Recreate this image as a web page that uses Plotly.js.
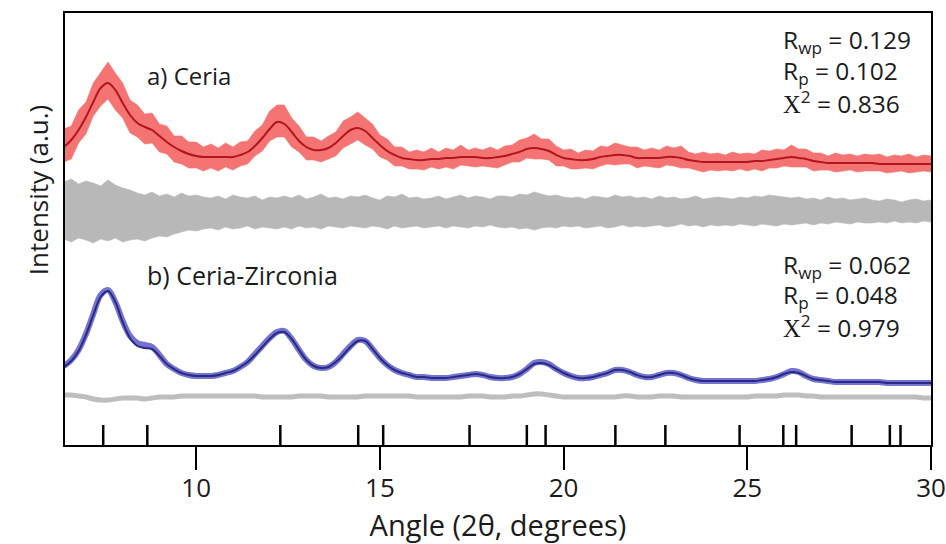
<!DOCTYPE html>
<html>
<head>
<meta charset="utf-8">
<script src="https://cdn.plot.ly/plotly-3.0.1.min.js"></script>
<style>
  html, body { margin: 0; padding: 0; background: #ffffff; }
  #chart { width: 946px; height: 544px; }
</style>
</head>
<body>
<div id="chart"></div>
<script>
// Powder diffraction patterns on a common 2θ grid (6.4° … 30.0°, step 0.2°).
// Intensities are in arbitrary units; each pattern is stacked with its own offset.
const angleStart = 6.4;
const angleStep = 0.2;

// a) Ceria — calculated (refined) profile
const ceriaCalc = [
  298,305,315,328,343,357,362,355,342,330,
  322,318,315,309,303,298,294,291,289,288,
  288,288,288,288,290,293,299,307,316,323,
  321,313,304,298,295,295,297,302,309,315,
  317,314,307,300,294,290,287,286,285,285,
  286,286,287,287,288,288,288,287,287,288,
  289,291,293,296,297,296,294,290,287,286,
  285,285,286,288,289,290,290,289,287,287,
  287,287,288,288,287,285,284,283,283,283,
  283,283,283,283,284,284,285,286,287,288,
  287,286,284,283,282,282,282,282,282,282,
  282,281,281,281,281,281,281,281,281
];
// a) Ceria — observed data, upper / lower envelope of the noisy trace
const ceriaObsHigh = [
  316,319,335,343,362,373,383,372,362,345,
  340,331,332,321,319,309,309,303,303,298,
  301,297,302,298,303,304,314,320,334,340,
  340,327,319,308,308,304,309,313,324,328,
  333,327,321,310,306,298,298,293,295,293,
  297,293,297,295,300,295,297,295,298,295,
  299,300,305,307,311,306,306,299,295,296,
  292,295,294,299,298,302,300,298,298,295,
  297,295,299,297,299,293,291,293,291,292,
  290,293,291,292,291,295,294,296,295,300,
  296,296,292,292,289,292,290,291,289,291,
  290,291,288,290,289,291,288,290,289
];
const ceriaObsLow = [
  283,286,302,311,329,339,346,335,327,312,
  308,301,302,293,291,283,281,277,277,274,
  277,274,278,275,279,281,289,294,304,308,
  308,298,293,285,285,283,286,289,297,301,
  305,300,296,288,285,279,279,276,276,275,
  278,276,278,276,280,279,278,279,278,277,
  280,283,283,287,286,286,285,279,279,276,
  276,277,276,279,281,280,281,281,277,279,
  278,277,280,279,277,277,275,273,275,274,
  275,274,276,274,276,274,277,277,279,278,
  278,278,274,275,275,273,274,275,273,274,
  274,274,272,273,274,272,273,274,273
];
// a) Ceria — difference curve (obs − calc), upper / lower envelope
const ceriaDiffHigh = [
  263,266,261,264,262,259,265,260,257,255,
  252,250,253,249,251,248,252,249,250,248,
  247,249,246,250,248,247,249,245,248,247,
  249,247,250,246,248,251,247,248,246,249,
  248,250,247,245,249,248,251,247,248,246,
  247,249,246,248,250,247,249,248,246,249,
  249,248,251,250,253,251,249,250,248,247,
  248,246,249,248,247,250,248,249,247,248,
  246,249,247,248,246,247,249,246,247,248,
  247,246,248,247,249,248,250,249,248,247,
  248,246,247,245,248,246,247,245,246,247,
  245,244,246,245,243,245,246,244,245
];
const ceriaDiffLow = [
  206,203,207,205,202,206,204,207,203,205,
  206,204,207,209,208,211,213,215,214,216,
  217,215,218,216,217,219,216,218,217,216,
  218,216,219,217,218,216,219,218,217,219,
  218,217,219,218,216,219,217,218,219,217,
  218,219,217,219,218,217,219,218,220,218,
  217,218,216,217,215,217,218,217,219,218,
  219,217,218,219,217,218,220,218,219,218,
  219,220,218,219,221,219,220,218,220,219,
  220,219,221,220,219,221,220,219,221,220,
  221,222,220,222,221,223,222,221,223,222,
  222,223,222,224,222,223,222,224,223
];

// b) Ceria-Zirconia — calculated profile
const czCalc = [
  78,84,94,110,130,148,154,143,123,107,
  99,97,96,89,81,76,72,70,69,69,
  69,70,72,74,78,83,90,98,106,112,
  113,106,95,85,79,77,78,83,90,98,
  104,104,96,87,80,75,72,70,68,68,
  67,67,67,68,69,70,71,70,68,67,
  67,68,71,76,81,82,80,76,72,69,
  67,67,68,70,72,75,75,73,70,68,
  68,70,72,72,70,67,65,64,64,64,
  64,64,64,64,64,65,66,68,71,73,
  72,69,66,65,64,63,63,63,63,63,
  63,63,62,62,62,62,62,62,62
];
// b) Ceria-Zirconia — observed data
const czObs = [
  79,85,95,111,131,150,155,143,124,109,
  102,100,98,90,81,76,72,70,69,69,
  69,70,72,74,78,83,91,99,107,113,
  114,106,95,85,79,77,78,83,91,99,
  105,104,96,87,80,75,72,70,68,68,
  67,67,67,68,69,70,71,70,68,67,
  67,68,71,76,82,83,81,76,72,69,
  67,67,68,70,72,75,75,73,70,68,
  68,70,72,72,70,67,65,64,64,64,
  64,64,64,64,64,65,66,68,71,74,
  73,69,66,65,64,63,63,63,63,63,
  63,63,62,62,62,62,62,62,62
];
// b) Ceria-Zirconia — difference curve
const czDiff = [
  50,50,49,48,46,45,45,46,47,47,
  47,46,47,48,48,48,49,49,49,49,
  49,49,49,49,49,49,49,48,48,48,
  48,48,49,49,49,49,48,48,48,48,
  48,49,49,49,49,49,49,49,48,48,
  48,48,48,48,48,49,49,49,48,48,
  48,49,49,50,51,51,50,49,48,48,
  48,48,48,48,48,48,49,49,48,48,
  48,49,49,49,48,48,48,48,48,48,
  48,48,48,48,49,49,49,49,50,50,
  50,49,49,48,48,48,48,48,48,48,
  48,48,48,48,48,48,48,47,47
];

// Allowed reflection positions (2θ, degrees)
const reflections = [7.47, 8.67, 12.29, 14.41, 15.09, 17.44, 19.00, 19.51,
                     21.41, 22.77, 24.79, 25.98, 26.33, 27.84, 28.88, 29.17];

// Axis ticks
const xTicks = [10, 15, 20, 25, 30];
const xTickText = ['10', '15', '20', '25', '30'];

const angles = ceriaCalc.map((_, i) => +(angleStart + i * angleStep).toFixed(2));

const FONT = '"Open Sans", "Noto Sans", "DejaVu Sans", sans-serif';
const TXT = '#1b1b1b';
const markHeight = 20;

function band(low, high, color) {
  return [
    { x: angles, y: low, type: 'scatter', mode: 'lines',
      line: { width: 0.6, color: color }, hoverinfo: 'skip', showlegend: false },
    { x: angles, y: high, type: 'scatter', mode: 'lines', fill: 'tonexty',
      fillcolor: color, line: { width: 0.6, color: color },
      hoverinfo: 'skip', showlegend: false }
  ];
}

const tickX = [], tickY = [];
reflections.forEach(r => { tickX.push(r, r, null); tickY.push(0, markHeight, null); });

const traces = [
  ...band(ceriaDiffLow, ceriaDiffHigh, 'rgb(184,184,184)'),
  ...band(ceriaObsLow, ceriaObsHigh, 'rgb(244,116,116)'),
  { x: angles, y: ceriaCalc, type: 'scatter', mode: 'lines',
    line: { color: '#b3141e', width: 2, shape: 'spline', smoothing: 1 },
    name: 'Ceria calc', showlegend: false },
  { x: angles, y: czDiff, type: 'scatter', mode: 'lines',
    line: { color: 'rgb(190,190,190)', width: 5, shape: 'spline', smoothing: 1 },
    name: 'Ceria-Zirconia diff', showlegend: false },
  { x: angles, y: czObs, type: 'scatter', mode: 'lines',
    line: { color: 'rgba(92,92,200,0.85)', width: 6, shape: 'spline', smoothing: 1 },
    name: 'Ceria-Zirconia obs', showlegend: false },
  { x: angles, y: czCalc, type: 'scatter', mode: 'lines',
    line: { color: '#2a2a86', width: 2, shape: 'spline', smoothing: 1 },
    name: 'Ceria-Zirconia calc', showlegend: false },
  { x: tickX, y: tickY, type: 'scatter', mode: 'lines',
    line: { color: '#000000', width: 2.5 }, hoverinfo: 'skip', showlegend: false }
];

function stat(text, y) {
  return { x: 25.92, y: y, xref: 'x', yref: 'y', xanchor: 'left', yanchor: 'middle',
           text: text, showarrow: false, font: { family: FONT, size: 24.5, color: TXT } };
}
const chi = '<span style="font-family:\'Liberation Serif\', serif">Χ</span><sup>2</sup>';

const layout = {
  width: 946, height: 544,
  margin: { l: 65, r: 15, t: 13, b: 99 },
  paper_bgcolor: '#ffffff', plot_bgcolor: '#ffffff',
  font: { family: FONT, color: TXT },
  showlegend: false,
  xaxis: {
    range: [6.43, 30], tickvals: xTicks, ticktext: xTickText,
    ticks: 'outside', ticklen: 23, tickwidth: 2, tickcolor: '#000',
    ticklabelstandoff: -4,
    showline: true, linewidth: 2, linecolor: '#000', mirror: true,
    showgrid: false, zeroline: false,
    tickfont: { family: FONT, size: 26, color: TXT },
    title: { text: 'Angle (2θ, degrees)', font: { family: FONT, size: 29, color: TXT }, standoff: 10 }
  },
  yaxis: {
    range: [0, 432], showticklabels: false, ticks: '',
    showline: true, linewidth: 2, linecolor: '#000', mirror: true,
    showgrid: false, zeroline: false
  },
  annotations: [
    { x: -0.031, y: 255, xref: 'paper', yref: 'y', xanchor: 'center', yanchor: 'middle',
      textangle: -90, text: 'Intensity (a.u.)', showarrow: false,
      font: { family: FONT, size: 26, color: TXT } },
    { x: 8.62, y: 370, xref: 'x', yref: 'y', xanchor: 'left', yanchor: 'middle',
      text: 'a) Ceria', showarrow: false, font: { family: FONT, size: 24, color: TXT } },
    { x: 8.62, y: 170, xref: 'x', yref: 'y', xanchor: 'left', yanchor: 'middle',
      text: 'b) Ceria-Zirconia', showarrow: false, font: { family: FONT, size: 25, color: TXT } },
    stat('R<sub>wp</sub> = 0.129', 404),
    stat('R<sub>p</sub> = 0.102', 373),
    stat(chi + ' = 0.836', 343),
    stat('R<sub>wp</sub> = 0.062', 179),
    stat('R<sub>p</sub> = 0.048', 149),
    stat(chi + ' = 0.979', 119)
  ]
};

Plotly.newPlot('chart', traces, layout, { displayModeBar: false, staticPlot: true });
</script>
</body>
</html>
